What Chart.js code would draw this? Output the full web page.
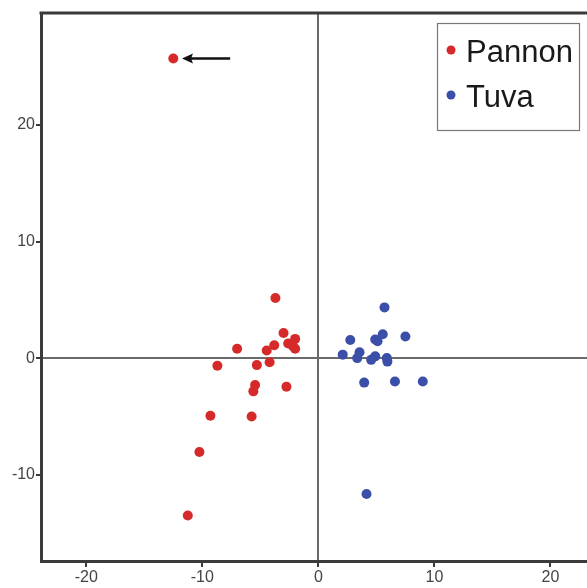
<!DOCTYPE html>
<html>
<head>
<meta charset="utf-8">
<script src="https://cdn.jsdelivr.net/npm/chart.js@4.4.0/dist/chart.umd.min.js"></script>
<style>
  html, body { margin: 0; padding: 0; background: #fff; overflow: hidden; }
  canvas { display: block; }
</style>
</head>
<body>
<canvas id="scatter" width="587" height="588"></canvas>
<script>
// group labels
var groupNames = ['Pannon', 'Tuva'];

// Pannon points
var pannonX = [-12.5, -3.7, -3.0, -3.8, -4.45, -2.6, -2.0, -2.0, -2.2, -7.0, -8.7, -5.3, -4.2, -2.75, -5.45, -5.6, -9.3, -5.75, -10.25, -11.25];
var pannonY = [25.7, 5.15, 2.15, 1.1, 0.65, 1.25, 1.65, 0.8, 1.05, 0.8, -0.65, -0.6, -0.35, -2.45, -2.3, -2.85, -4.95, -5.0, -8.05, -13.5];

// Tuva points
var tuvaX = [5.7, 2.75, 4.9, 5.1, 5.55, 7.5, 2.1, 3.55, 3.35, 4.9, 4.55, 5.9, 5.95, 3.95, 6.6, 9.0, 4.15];
var tuvaY = [4.35, 1.55, 1.6, 1.45, 2.05, 1.85, 0.3, 0.5, 0.0, 0.15, -0.15, 0.0, -0.3, -2.1, -2.0, -2.0, -11.65];

var groupColors = ['#d62a2a', '#3b4ea8'];

// arrow pointing at the outlier (data units)
var arrowFrom = { x: -7.6, y: 25.7 };
var arrowTo = { x: -11.75, y: 25.7 };

function toPoints(xs, ys) {
    var pts = [];
    for (let i = 0; i < xs.length; i++) {
        pts.push({ x: xs[i], y: ys[i] });
    }
    return pts;
}

var framePlugin = {
    id: 'frame',
    beforeDatasetsDraw: function (chart) {
        var ctx = chart.ctx, a = chart.chartArea;
        ctx.save();
        ctx.strokeStyle = '#3a3a3a';
        ctx.lineWidth = 3;
        ctx.beginPath();
        ctx.moveTo(a.left - 1.5, a.top);
        ctx.lineTo(a.right, a.top);
        ctx.stroke();
        ctx.restore();
    },
    afterDatasetsDraw: function (chart) {
        var ctx = chart.ctx, a = chart.chartArea;
        var sx = chart.scales.x, sy = chart.scales.y;
        ctx.save();
        // arrow
        var x1 = sx.getPixelForValue(arrowFrom.x), y1 = sy.getPixelForValue(arrowFrom.y);
        var x2 = sx.getPixelForValue(arrowTo.x), y2 = sy.getPixelForValue(arrowTo.y);
        ctx.strokeStyle = '#111';
        ctx.fillStyle = '#111';
        ctx.lineWidth = 2.5;
        ctx.beginPath();
        ctx.moveTo(x1, y1);
        ctx.lineTo(x2 + 8, y2);
        ctx.stroke();
        ctx.beginPath();
        ctx.moveTo(x2, y2);
        ctx.lineTo(x2 + 11, y2 - 5);
        ctx.lineTo(x2 + 9, y2);
        ctx.lineTo(x2 + 11, y2 + 5);
        ctx.closePath();
        ctx.fill();

        // legend box
        var bx = a.right - 150, by = a.top + 10, bw = 142, bh = 107;
        ctx.fillStyle = '#fff';
        ctx.fillRect(bx, by, bw, bh);
        ctx.strokeStyle = '#777';
        ctx.lineWidth = 1.2;
        ctx.strokeRect(bx + 0.5, by + 0.5, bw, bh);
        ctx.font = '31px "Liberation Sans", Arial, sans-serif';
        ctx.textBaseline = 'alphabetic';
        for (let i = 0; i < groupNames.length; i++) {
            var cy = by + 27 + i * 45;
            ctx.fillStyle = groupColors[i];
            ctx.beginPath();
            ctx.arc(bx + 14, cy, 4.5, 0, Math.PI * 2);
            ctx.fill();
            ctx.fillStyle = '#1a1a1a';
            ctx.fillText(groupNames[i], bx + 29, cy + 12);
        }
        ctx.restore();
    }
};

var tickFont = { family: '"Liberation Sans", Arial, sans-serif', size: 16 };

function zeroLine(c) {
    return c.tick && c.tick.value === 0 ? '#6a6a6a' : 'rgba(0,0,0,0)';
}

var scatterChart = new Chart(document.getElementById('scatter'), {
    type: 'scatter',
    data: {
        datasets: [{
            label: groupNames[0],
            data: toPoints(pannonX, pannonY),
            backgroundColor: groupColors[0],
            borderColor: groupColors[0],
            pointRadius: 5,
            borderWidth: 0
        }, {
            label: groupNames[1],
            data: toPoints(tuvaX, tuvaY),
            backgroundColor: groupColors[1],
            borderColor: groupColors[1],
            pointRadius: 5,
            borderWidth: 0
        }]
    },
    options: {
        responsive: false,
        animation: false,
        layout: {
            autoPadding: false,
            padding: { top: 13, right: 0, left: 0, bottom: 0 }
        },
        plugins: {
            legend: { display: false },
            tooltip: { enabled: false }
        },
        scales: {
            x: {
                type: 'linear',
                min: -23.9,
                max: 23.15,
                afterFit: function (s) {
                    s.height = 27;
                    s.paddingLeft = 0;
                    s.paddingRight = 0;
                },
                ticks: {
                    stepSize: 10,
                    includeBounds: false,
                    color: '#444',
                    font: tickFont,
                    padding: 1,
                    maxRotation: 0
                },
                grid: {
                    color: zeroLine,
                    lineWidth: 2,
                    drawTicks: true,
                    tickLength: 6,
                    tickColor: '#3a3a3a',
                    tickWidth: 2
                },
                border: { display: true, color: '#3a3a3a', width: 3 }
            },
            y: {
                type: 'linear',
                min: -17.4,
                max: 29.6,
                afterFit: function (s) {
                    s.width = 41;
                    s.paddingTop = 0;
                    s.paddingBottom = 0;
                },
                ticks: {
                    stepSize: 10,
                    includeBounds: false,
                    color: '#444',
                    font: tickFont,
                    padding: 1
                },
                grid: {
                    color: zeroLine,
                    lineWidth: 2,
                    drawTicks: true,
                    tickLength: 5,
                    tickColor: '#3a3a3a',
                    tickWidth: 2
                },
                border: { display: true, color: '#3a3a3a', width: 3 }
            }
        }
    },
    plugins: [framePlugin]
});
</script>
</body>
</html>
